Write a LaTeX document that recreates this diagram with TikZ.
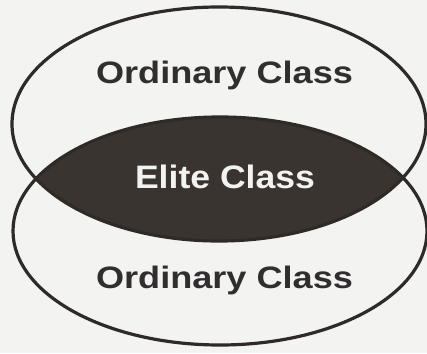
\documentclass[tikz,border=0pt]{standalone}
\usepackage{fontspec}
\setmainfont{Liberation Sans}
\definecolor{paper}{HTML}{F3F3F1}
\definecolor{ink}{HTML}{2E2A28}
\definecolor{lens}{HTML}{3A3431}
\definecolor{txt}{HTML}{302E2E}
\definecolor{wtxt}{HTML}{F2F2F0}
\begin{document}
\begin{tikzpicture}[x=1pt,y=-1pt,
  ring/.style={draw=ink,line width=3.2pt},
  label/.style={anchor=base,inner sep=0pt,font=\bfseries\fontsize{31}{31}\selectfont,text=txt},
  elite/.style={anchor=base,inner sep=0pt,font=\bfseries\fontsize{32.5}{32.5}\selectfont,text=wtxt}]
\fill[paper] (0,0) rectangle (427,353);
\useasboundingbox (0,0) rectangle (427,353);
\begin{scope}
  \clip (219,124) ellipse [x radius=207,y radius=117];
  \fill[lens] (220,231) ellipse [x radius=207,y radius=114];
\end{scope}
\draw[ring] (219,124) ellipse [x radius=207,y radius=117];
\draw[ring] (220,231) ellipse [x radius=207,y radius=114];
\node[label] (top) at (224.5,83.5) {\scalebox{1.165}[1]{Ordinary Class}};
\node[elite] (mid) at (225,188) {\scalebox{1.095}[1]{Elite Class}};
\node[label] (bot) at (224.5,288.5) {\scalebox{1.165}[1]{Ordinary Class}};
\end{tikzpicture}
\end{document}
